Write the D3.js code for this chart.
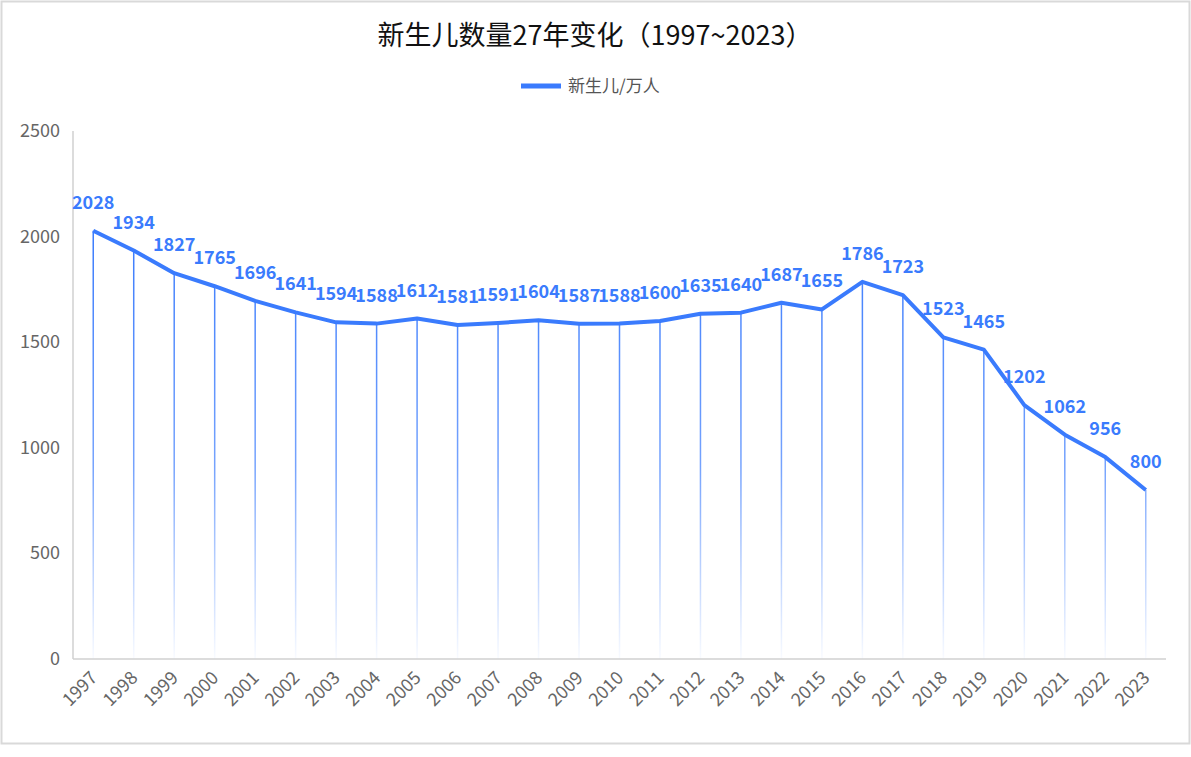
<!DOCTYPE html>
<html><head><meta charset="utf-8">
<script src="https://cdn.jsdelivr.net/npm/d3@7/dist/d3.min.js"></script>
<style>body{margin:0;background:#fff}svg{display:block;font-family:"Noto Sans CJK SC","Noto Sans",sans-serif}</style>
</head><body><svg id="c" width="1191" height="757"></svg>
<script>
const years = ["1997","1998","1999","2000","2001","2002","2003","2004","2005","2006","2007","2008","2009","2010","2011","2012","2013","2014","2015","2016","2017","2018","2019","2020","2021","2022","2023"];
const births = [2028,1934,1827,1765,1696,1641,1594,1588,1612,1581,1591,1604,1587,1588,1600,1635,1640,1687,1655,1786,1723,1523,1465,1202,1062,956,800];
const yTicks = [0,500,1000,1500,2000,2500];
const seriesName = "新生儿/万人";
const title = "新生儿数量27年变化（1997~2023）";

const svg = d3.select("#c");
const blue = "#3a7bfd";
svg.append("rect").attr("x",1.5).attr("y",1.5).attr("width",1188).attr("height",742).attr("fill","#fff").attr("stroke","#d9d9d9").attr("stroke-width",2);

const x = d3.scaleBand().domain(years).range([73,1166]);
const y = d3.scaleLinear().domain([0,2500]).range([659,131]);
const cx = d => x(d)+x.bandwidth()/2;

const defs = svg.append("defs");
const g = defs.append("linearGradient").attr("id","fade").attr("gradientUnits","userSpaceOnUse")
  .attr("x1",0).attr("y1",y(2028)).attr("x2",0).attr("y2",y(0));
g.append("stop").attr("offset","0%").attr("stop-color",blue).attr("stop-opacity",1);
g.append("stop").attr("offset","55%").attr("stop-color",blue).attr("stop-opacity",0.7);
g.append("stop").attr("offset","100%").attr("stop-color",blue).attr("stop-opacity",0.03);

svg.append("text").attr("x",595).attr("y",45).attr("text-anchor","middle").attr("font-size",27).attr("fill","#111").text(title);
svg.append("line").attr("x1",521).attr("x2",561).attr("y1",86).attr("y2",86).attr("stroke",blue).attr("stroke-width",5);
svg.append("text").attr("x",568).attr("y",92).attr("font-size",17).attr("fill","#555").text(seriesName);

svg.selectAll(".yt").data(yTicks).join("text").attr("x",60).attr("y",d=>y(d)+6).attr("text-anchor","end")
  .attr("font-size",18).attr("fill","#666").text(d=>d);
svg.append("line").attr("x1",73).attr("x2",73).attr("y1",131).attr("y2",659).attr("stroke","#d0d0d0").attr("stroke-width",1.5);

svg.selectAll(".drop").data(years).join("line").attr("x1",cx).attr("x2",cx)
  .attr("y1",(d,i)=>y(births[i])).attr("y2",y(0)).attr("stroke","url(#fade)").attr("stroke-width",1.5);

svg.append("line").attr("x1",73).attr("x2",1166).attr("y1",659).attr("y2",659).attr("stroke","#d0d0d0").attr("stroke-width",1.5);

svg.append("path").datum(years).attr("fill","none").attr("stroke",blue).attr("stroke-width",4).attr("stroke-linejoin","round")
  .attr("d",d3.line().x(cx).y((d,i)=>y(births[i])));

svg.selectAll(".lab").data(years).join("text").attr("x",cx).attr("y",(d,i)=>y(births[i])-22)
  .attr("text-anchor","middle").attr("font-size",18).attr("font-weight","bold").attr("fill",blue).text((d,i)=>births[i]);

svg.selectAll(".xl").data(years).join("text")
  .attr("transform",d=>`translate(${cx(d)+5},${679}) rotate(-45)`)
  .attr("text-anchor","end").attr("font-size",18).attr("fill","#666").text(d=>d);
</script></body></html>
